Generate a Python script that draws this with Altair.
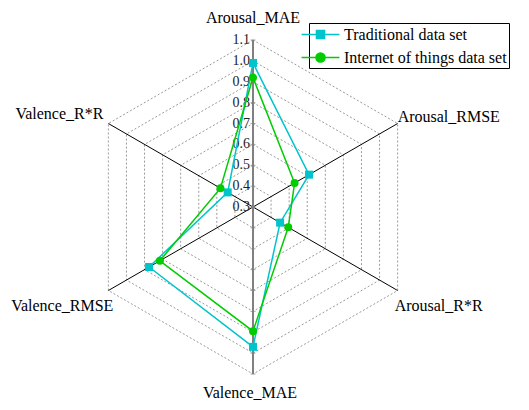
import math
import altair as alt
import pandas as pd

# ---------------- data ----------------
categories = ["Arousal_MAE", "Arousal_RMSE", "Arousal_R*R",
              "Valence_MAE", "Valence_RMSE", "Valence_R*R"]
traditional = [0.99, 0.61, 0.45, 0.97, 0.875, 0.44]
iot = [0.92, 0.53, 0.495, 0.895, 0.815, 0.48]
series_names = ["Traditional data set", "Internet of things data set"]
levels = [0.3, 0.4, 0.5, 0.6, 0.7, 0.8, 0.9, 1.0, 1.1]
tick_labels = ["0.3", "0.4", "0.5", "0.6", "0.7", "0.8", "0.9", "1.0", "1.1"]

# ---------------- styles ----------------
colors = ["#00C4CC", "#00CC00"]
shapes = ["square", "circle"]
legend_paths = [
    "M-2.2,0H-0.47M0.47,0H2.2M-0.47,-0.47H0.47V0.47H-0.47Z",
    "M-2.2,0H-0.53M0.53,0H2.2M-0.53,0A0.53,0.53 0 1,0 0.53,0A0.53,0.53 0 1,0 -0.53,0Z",
]
FONT = "Liberation Serif"
R_MIN, R_MAX, R_PX = 0.3, 1.1, 167
W, H = 513, 394
CX, CY = 245, 199  # centre inside the plot area

xs = alt.Scale(domain=[-CX, W - CX], nice=False, zero=False)
ys = alt.Scale(domain=[-(H - CY), CY], nice=False, zero=False)
X = alt.X("px:Q", scale=xs, axis=None)
Y = alt.Y("py:Q", scale=ys, axis=None)
X2 = alt.X2("px2:Q")
Y2 = alt.Y2("py2:Q")

ang = "PI/2 - datum.i*PI/3"
rad = f"(datum.value-{R_MIN})/({R_MAX}-{R_MIN})*{R_PX}"


def polar(ch):
    return ch.transform_calculate(
        ang=ang, rr=rad
    ).transform_calculate(
        px="datum.rr*cos(datum.ang)", py="datum.rr*sin(datum.ang)"
    )


# series table
rows = []
for s, vals in zip(series_names, [traditional, iot]):
    for k in range(7):
        rows.append({"series": s, "i": k, "value": vals[k % 6], "cat": categories[k % 6]})
series_df = pd.DataFrame(rows)

# grid table
grid_df = pd.DataFrame([{"level": lv, "i": k, "value": lv}
                        for lv in levels[1:] for k in range(7)])

# spokes
spoke_df = pd.DataFrame([{"i": k, "value": R_MAX} for k in range(6)])

# tick table
tick_df = pd.DataFrame([{"value": lv, "label": lb} for lv, lb in zip(levels, tick_labels)])

cat_df = pd.DataFrame([{"i": k, "cat": c, "value": R_MAX} for k, c in enumerate(categories)])

layers = []

grid = polar(alt.Chart(grid_df)).mark_line(
    color="#9a9a9a", strokeWidth=1, strokeDash=[2, 2]
).encode(x=X, y=Y, detail="level:N", order="i:Q")
layers.append(grid)

diag = polar(alt.Chart(spoke_df).transform_filter("datum.i % 3 != 0")).transform_calculate(
    px2="0", py2="0"
).mark_rule(color="black", strokeWidth=1).encode(x=X, y=Y, x2=X2, y2=Y2)
layers.append(diag)

vert = polar(alt.Chart(spoke_df).transform_filter("datum.i % 3 == 0")).transform_calculate(
    px2="0", py2="0"
).mark_rule(color="#808080", strokeWidth=2).encode(x=X, y=Y, x2=X2, y2=Y2)
layers.append(vert)

for k in (0, 3):
    ticks = polar(alt.Chart(tick_df).transform_calculate(i=str(k))).mark_tick(
        orient="horizontal", size=5, thickness=1, color="#808080"
    ).encode(x=X, y=Y)
    layers.append(ticks)

tick_text = polar(alt.Chart(tick_df).transform_calculate(i="0")).mark_text(
    align="right", baseline="middle", dx=-3, font=FONT, fontSize=14, color="#222222"
).encode(x=X, y=Y, text="label:N")
layers.append(tick_text)

for s, c, sh in zip(series_names, colors, shapes):
    base = polar(alt.Chart(series_df).transform_filter(alt.datum.series == s))
    layers.append(base.mark_line(color=c, strokeWidth=1.5).encode(x=X, y=Y, order="i:Q"))
for s, c, sh in zip(series_names, colors, shapes):
    base = polar(alt.Chart(series_df).transform_filter(alt.datum.series == s).transform_filter("datum.i < 6"))
    layers.append(base.mark_point(color=c, filled=True, opacity=1, shape=sh, size=64).encode(x=X, y=Y))

label_style = {
    0: dict(align="center", dx=0, dy=-17),
    1: dict(align="left", dx=0, dy=-2),
    2: dict(align="left", dx=-3, dy=20),
    3: dict(align="center", dx=-3, dy=24),
    4: dict(align="right", dx=5, dy=20),
    5: dict(align="right", dx=-5, dy=-5),
}
for k, st in label_style.items():
    lab = polar(alt.Chart(cat_df).transform_filter(f"datum.i == {k}")).mark_text(
        baseline="alphabetic", font=FONT, fontSize=16, color="black", **st
    ).encode(x=X, y=Y, text="cat:N")
    layers.append(lab)

legend_df = pd.DataFrame({"series": series_names})
leg = alt.Legend(
    title=None, orient="none", legendX=301, legendY=15,
    strokeColor="black", fillColor="white", padding=2, cornerRadius=0,
    labelFont=FONT, labelFontSize=16, labelColor="black", labelLimit=400,
    symbolSize=296, symbolStrokeWidth=1.5, labelOffset=14, rowPadding=5,
    symbolOpacity=1,
)
legend_layer = alt.Chart(legend_df).mark_point(filled=True, opacity=0, strokeWidth=1.5).encode(
    x=alt.value(0), y=alt.value(0),
    fill=alt.Fill("series:N", scale=alt.Scale(domain=series_names, range=colors), legend=leg),
    stroke=alt.Stroke("series:N", scale=alt.Scale(domain=series_names, range=colors), legend=leg),
    shape=alt.Shape("series:N", scale=alt.Scale(domain=series_names, range=legend_paths), legend=leg),
)
layers.append(legend_layer)

chart = alt.layer(*layers).properties(
    width=W, height=H, padding=0, autosize=alt.AutoSizeParams(type="none")
).configure(font=FONT).configure_view(stroke=None)

chart.save("out.html", embed_options={"renderer": "svg", "actions": False})
